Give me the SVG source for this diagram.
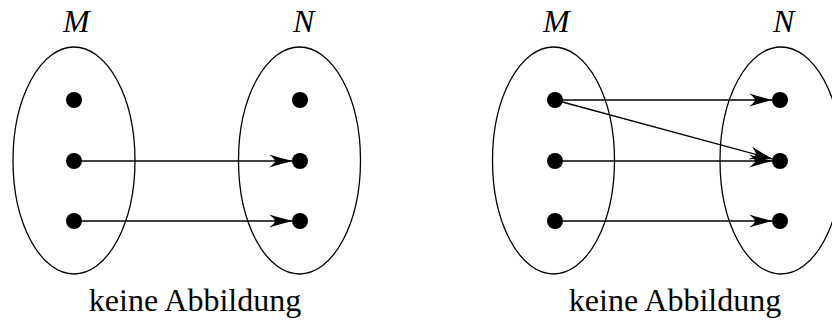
<svg xmlns="http://www.w3.org/2000/svg" width="832" height="320" viewBox="0 0 832 320">
  <style>
    .set { fill: none; stroke: #000; stroke-width: 1.3; }
    .dot { fill: #000; }
    .edge { fill: none; stroke: #000; stroke-width: 1.3; marker-end: url(#arr); }
    .lbl { font-style: italic; font-size: 32px; fill: #000; }
    .cap { font-size: 32px; fill: #000; text-anchor: middle; }
  </style>
  <defs>
    <marker id="arr" markerUnits="userSpaceOnUse" viewBox="-25 -8 26 16" refX="0" refY="0" markerWidth="26" markerHeight="16" orient="auto">
      <path d="M1,0 Q-10,-2.5 -23,-6.5 Q-17,-2 -17,0 Q-17,2 -23,6.5 Q-10,2.5 1,0 Z" fill="#000"/>
    </marker>
  </defs>

  <g id="connectors">
    <line class="edge" x1="74" y1="161" x2="292" y2="161"/>
    <line class="edge" x1="74" y1="221" x2="292" y2="221"/>
    <line class="edge" x1="555" y1="100" x2="772" y2="100"/>
    <line class="edge" x1="555" y1="100" x2="772.3" y2="158.9"/>
    <line class="edge" x1="555" y1="161" x2="772" y2="161"/>
    <line class="edge" x1="555" y1="221" x2="772" y2="221"/>
  </g>

  <g id="left-M">
    <ellipse class="set" cx="74" cy="160.5" rx="61" ry="113.5"/>
    <text class="lbl" font-family="'Liberation Serif', 'Times New Roman', 'DejaVu Serif', serif" x="63" y="32">M</text>
    <circle class="dot" cx="74" cy="100" r="8"/>
    <circle class="dot" cx="74" cy="161" r="8"/>
    <circle class="dot" cx="74" cy="221" r="8"/>
  </g>
  <g id="left-N">
    <ellipse class="set" cx="299.5" cy="160.5" rx="61" ry="113.5"/>
    <text class="lbl" font-family="'Liberation Serif', 'Times New Roman', 'DejaVu Serif', serif" x="293" y="32">N</text>
    <circle class="dot" cx="300" cy="100" r="8"/>
    <circle class="dot" cx="300" cy="161" r="8"/>
    <circle class="dot" cx="300" cy="221" r="8"/>
  </g>
  <text id="left-caption" class="cap" font-family="'Liberation Serif', 'Times New Roman', 'DejaVu Serif', serif" x="195" y="311">keine Abbildung</text>

  <g id="right-M">
    <ellipse class="set" cx="553.5" cy="160.5" rx="61" ry="113.5"/>
    <text class="lbl" font-family="'Liberation Serif', 'Times New Roman', 'DejaVu Serif', serif" x="543" y="32">M</text>
    <circle class="dot" cx="555" cy="100" r="8"/>
    <circle class="dot" cx="555" cy="161" r="8"/>
    <circle class="dot" cx="555" cy="221" r="8"/>
  </g>
  <g id="right-N">
    <ellipse class="set" cx="781" cy="160.5" rx="61" ry="113.5"/>
    <text class="lbl" font-family="'Liberation Serif', 'Times New Roman', 'DejaVu Serif', serif" x="773" y="32">N</text>
    <circle class="dot" cx="780" cy="100" r="8"/>
    <circle class="dot" cx="780" cy="161" r="8"/>
    <circle class="dot" cx="780" cy="221" r="8"/>
  </g>
  <text id="right-caption" class="cap" font-family="'Liberation Serif', 'Times New Roman', 'DejaVu Serif', serif" x="675" y="311">keine Abbildung</text>
</svg>
